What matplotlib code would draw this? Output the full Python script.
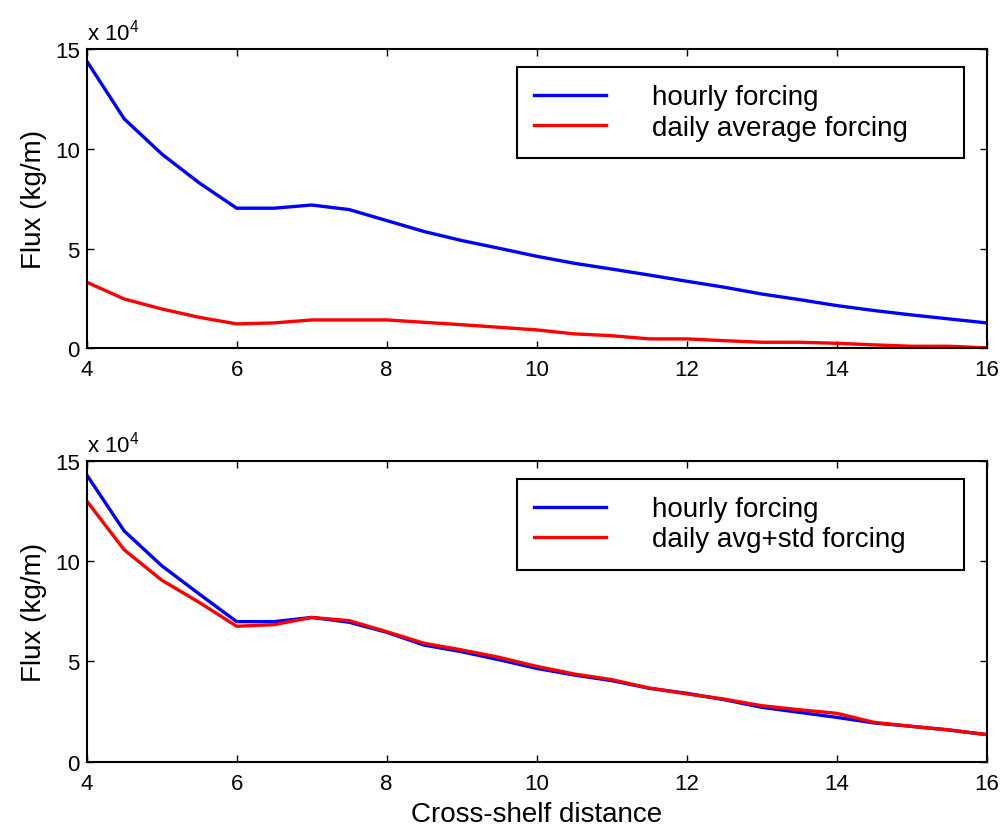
import numpy as np
import matplotlib
matplotlib.use("Agg")
import matplotlib.pyplot as plt

plt.rcParams.update({
    "font.family": ["Liberation Sans", "DejaVu Sans"],
    "mathtext.fontset": "custom",
    "mathtext.rm": "Liberation Sans",
    "xtick.direction": "in",
    "ytick.direction": "in",
    "xtick.top": True,
    "ytick.right": True,
})

# distance values and fluxes (units of 1e4 kg/m)
distance = [4, 4.5, 5, 5.5, 6, 6.5, 7, 7.5, 8, 8.5, 9, 9.5, 10,
            10.5, 11, 11.5, 12, 12.5, 13, 13.5, 14, 14.5, 15, 15.5, 16]

hourly_top = [14.4, 11.5, 9.74, 8.29, 7.02, 7.02, 7.18, 6.95, 6.4, 5.85, 5.4, 5.01, 4.61,
              4.26, 3.97, 3.67, 3.36, 3.06, 2.72, 2.44, 2.14, 1.89, 1.67, 1.47, 1.27]
daily_avg = [3.31, 2.47, 1.97, 1.55, 1.22, 1.27, 1.42, 1.42, 1.42, 1.30, 1.18, 1.05, 0.92,
             0.72, 0.63, 0.47, 0.47, 0.38, 0.30, 0.30, 0.25, 0.17, 0.10, 0.10, 0.02]

hourly_bot = [14.3, 11.5, 9.77, 8.36, 6.98, 6.98, 7.19, 6.95, 6.45, 5.81, 5.48, 5.08, 4.65,
              4.32, 4.04, 3.66, 3.41, 3.09, 2.71, 2.46, 2.21, 1.93, 1.76, 1.58, 1.35]
daily_std = [13.0, 10.56, 9.05, 7.94, 6.75, 6.83, 7.19, 7.03, 6.48, 5.9, 5.57, 5.2, 4.75,
             4.37, 4.09, 3.67, 3.38, 3.12, 2.79, 2.59, 2.41, 1.96, 1.76, 1.58, 1.35]

labels_top = ["hourly forcing", "daily average forcing"]
labels_bot = ["hourly forcing", "daily avg+std forcing"]

fig = plt.figure(figsize=(10.03, 8.29), dpi=100)
ax1 = fig.add_axes([0.0864, 0.5787, 0.8973, 0.361])
ax2 = fig.add_axes([0.0864, 0.0800, 0.8973, 0.363])

panels = [(ax1, hourly_top, daily_avg, labels_top),
          (ax2, hourly_bot, daily_std, labels_bot)]

for ax, blue, red, labs in panels:
    ax.plot(distance, blue, color="#0000ff", lw=2.4, label=labs[0])
    ax.plot(distance, red, color="#ff0000", lw=2.4, label=labs[1])
    ax.set_xlim(4, 16)
    ax.set_ylim(0, 15)
    ax.set_xticks([4, 6, 8, 10, 12, 14, 16])
    ax.set_yticks([0, 5, 10, 15])
    ax.tick_params(labelsize=16, length=5, width=1)
    ax.tick_params(axis="x", pad=8)
    ax.tick_params(axis="y", pad=5)
    for s in ax.spines.values():
        s.set_linewidth(1.5)
    ax.set_ylabel("Flux (kg/m)", fontsize=20, labelpad=6)
    ax.text(0.0, 1.015, r"x 10$^{4}$", transform=ax.transAxes,
            fontsize=16, ha="left", va="bottom")
    leg = ax.legend(loc="upper left", bbox_to_anchor=(0.478, 0.64, 0.497, 0.299),
                    mode="expand", fontsize=20, handlelength=2.6,
                    handletextpad=1.65, labelspacing=0.15, borderpad=0.62,
                    borderaxespad=0, fancybox=False, edgecolor="black",
                    framealpha=1)
    leg.get_frame().set_linewidth(1.5)
    for ln in leg.get_lines():
        ln.set_linewidth(2.4)

ax2.set_xlabel("Cross-shelf distance", fontsize=20, labelpad=5)

fig.savefig("out.png", dpi=100)
